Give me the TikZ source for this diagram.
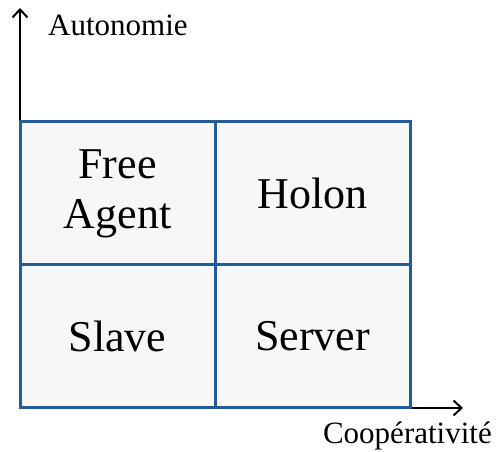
\documentclass[tikz,border=0pt]{standalone}
\usepackage{fontspec}
\setmainfont{Liberation Serif}
\usetikzlibrary{positioning,arrows.meta}
\definecolor{gridblue}{RGB}{31,92,153}
\definecolor{cellgray}{RGB}{247,247,247}
\tikzstyle{cell} = [draw=gridblue, fill=cellgray, rectangle, line width=3pt,
    minimum width=195pt, minimum height=143pt, inner sep=0pt, outer sep=0pt,
    align=center, font=\fontsize{44}{50}\selectfont]
\tikzstyle{axis} = [line width=2pt, -{Straight Barb[length=8pt,width=15pt,line width=2pt]}]
\tikzstyle{axislabel} = [font=\fontsize{31}{36}\selectfont, inner sep=0pt]

\begin{document}
\begin{tikzpicture}[x=1pt, y=1pt]
    \useasboundingbox (0,0) rectangle (496,452);

    % Axes
    \coordinate (origin) at (20,44);
    \coordinate (ytop) at (20,444);
    \coordinate (xend) at (463,44);
    \draw [axis] (origin) -- (ytop);
    \draw [axis] (origin) -- (xend);

    % Axis labels
    \node [axislabel, anchor=base west] (autonomie) at (48,416) {Autonomie};
    \node [axislabel, anchor=base east] (coop) at (492,8) {Coopérativité};

    % Cells of the grid
    \node [cell, anchor=north west] (free) at (20,330) {Free\\Agent};
    \node [cell, right=0pt of free] (holon) {Holon};
    \node [cell, below=0pt of free] (slave) {Slave};
    \node [cell, right=0pt of slave] (server) {Server};

\end{tikzpicture}
\end{document}
